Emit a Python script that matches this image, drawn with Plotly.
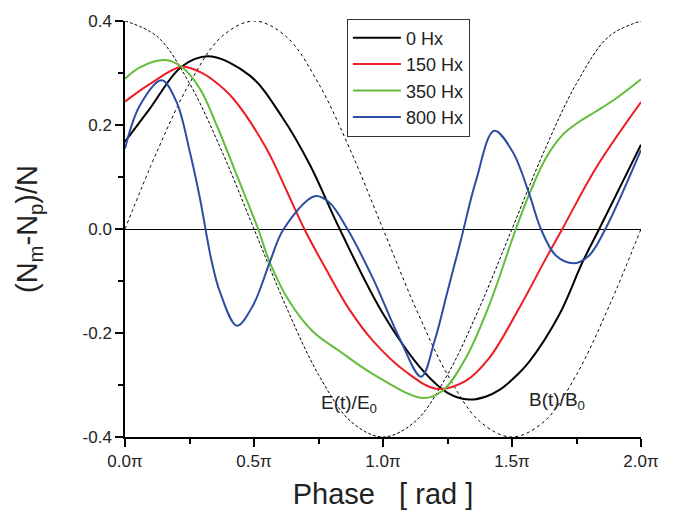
import plotly.graph_objects as go

# Phase in units of pi
x_black = [0.0, 0.097, 0.219, 0.325, 0.484, 0.612, 0.716, 0.832, 0.999, 1.154, 1.25, 1.335, 1.40, 1.45, 1.50, 1.567, 1.683, 1.773, 1.838, 1.92, 2.0]
y_black = [0.168, 0.232, 0.312, 0.332, 0.295, 0.213, 0.124, 0.0, -0.162, -0.272, -0.315, -0.328, -0.322, -0.31, -0.29, -0.255, -0.165, -0.064, 0.0, 0.082, 0.162]

x_red = [0.0, 0.097, 0.219, 0.29, 0.342, 0.419, 0.548, 0.625, 0.695, 0.78, 0.87, 0.961, 1.09, 1.206, 1.321, 1.412, 1.528, 1.631, 1.695, 1.825, 2.0]
y_red = [0.245, 0.279, 0.312, 0.302, 0.286, 0.251, 0.155, 0.075, 0.0, -0.078, -0.155, -0.215, -0.275, -0.307, -0.292, -0.248, -0.152, -0.057, 0.0, 0.117, 0.244]

x_green = [0.0, 0.058, 0.155, 0.219, 0.29, 0.355, 0.432, 0.516, 0.561, 0.638, 0.728, 0.832, 0.961, 1.154, 1.231, 1.321, 1.412, 1.515, 1.567, 1.631, 1.696, 1.76, 1.825, 1.90, 2.0]
y_green = [0.289, 0.311, 0.325, 0.312, 0.27, 0.2, 0.105, 0.0, -0.064, -0.14, -0.197, -0.235, -0.279, -0.325, -0.311, -0.248, -0.146, 0.0, 0.067, 0.136, 0.181, 0.206, 0.226, 0.25, 0.288]

x_blue = [0.0, 0.058, 0.142, 0.2, 0.251, 0.29, 0.335, 0.368, 0.434, 0.497, 0.561, 0.615, 0.735, 0.79, 0.862, 0.961, 1.064, 1.148, 1.2, 1.25, 1.3, 1.36, 1.431, 1.502, 1.567, 1.612, 1.67, 1.741, 1.799, 1.862, 2.0]
y_blue = [0.155, 0.238, 0.286, 0.244, 0.149, 0.06, -0.06, -0.121, -0.186, -0.146, -0.064, 0.0, 0.063, 0.052, 0.0, -0.095, -0.21, -0.284, -0.215, -0.12, -0.025, 0.092, 0.189, 0.149, 0.067, 0.0, -0.051, -0.066, -0.051, 0.0, 0.152]

x_ref = [0.0, 0.125, 0.25, 0.375, 0.5, 0.625, 0.75, 0.875, 1.0, 1.125, 1.25, 1.375, 1.5, 1.625, 1.75, 1.875, 2.0]
y_E = [0.40, 0.37, 0.28, 0.15, 0.00, -0.15, -0.28, -0.37, -0.40, -0.37, -0.28, -0.15, 0.00, 0.15, 0.28, 0.37, 0.40]
y_B = [0.00, 0.15, 0.28, 0.37, 0.40, 0.37, 0.28, 0.15, 0.00, -0.15, -0.28, -0.37, -0.40, -0.37, -0.28, -0.15, 0.00]

series_names = ["0 Hx", "150 Hx", "350 Hx", "800 Hx"]
series_colors = ["#000000", "#ee1c24", "#62bd3c", "#2b4ea2"]

x_tickvals = [0, 0.5, 1.0, 1.5, 2.0]
x_ticktext = ["0.0π", "0.5π", "1.0π", "1.5π", "2.0π"]
y_tickvals = [-0.4, -0.2, 0.0, 0.2, 0.4]
y_ticktext = ["-0.4", "-0.2", "0.0", "0.2", "0.4"]

FONT = "Liberation Sans, Arial, sans-serif"

fig = go.Figure()
fig.add_trace(go.Scatter(x=x_ref, y=y_E, mode="lines", showlegend=False,
                         line=dict(color="black", width=1, dash="3px,2px", shape="spline")))
fig.add_trace(go.Scatter(x=x_ref, y=y_B, mode="lines", showlegend=False,
                         line=dict(color="black", width=1, dash="dot", shape="spline")))

for xs, ys, name, col in zip([x_black, x_red, x_green, x_blue],
                             [y_black, y_red, y_green, y_blue],
                             series_names, series_colors):
    fig.add_trace(go.Scatter(x=xs, y=ys, mode="lines", name=name,
                             line=dict(color=col, width=2, shape="spline", smoothing=1.0)))

fig.add_annotation(x=0.87, y=-0.337, text="E(t)/E<sub>0</sub>", showarrow=False,
                   font=dict(family=FONT, size=19, color="#222"))
fig.add_annotation(x=1.675, y=-0.33, text="B(t)/B<sub>0</sub>", showarrow=False,
                   font=dict(family=FONT, size=19, color="#222"))

fig.update_layout(
    width=675, height=517,
    margin=dict(l=125, r=34, t=18, b=79),
    paper_bgcolor="white", plot_bgcolor="white",
    font=dict(family=FONT, color="#222"),
    legend=dict(x=0.43, y=1.006, xanchor="left", yanchor="top",
                bgcolor="white", bordercolor="#333", borderwidth=1,
                font=dict(family=FONT, size=18, color="#222"),
                itemwidth=48, tracegroupgap=0),
    xaxis=dict(range=[0, 2], tickvals=x_tickvals, ticktext=x_ticktext,
               showgrid=False, zeroline=False, showline=True, linecolor="black", linewidth=1.5,
               ticks="outside", ticklen=8, tickwidth=1.5, tickcolor="black",
               minor=dict(dtick=0.25, ticks="outside", ticklen=5, tickwidth=1.5, tickcolor="black"),
               tickfont=dict(family=FONT, size=17, color="#222"),
               title=dict(text="Phase   [ rad ]", font=dict(family=FONT, size=29, color="#222"), standoff=14)),
    yaxis=dict(range=[-0.4, 0.4], tickvals=y_tickvals, ticktext=y_ticktext,
               showgrid=False, zeroline=True, zerolinecolor="black", zerolinewidth=1,
               showline=True, linecolor="black", linewidth=1.5,
               ticks="outside", ticklen=8, tickwidth=1.5, tickcolor="black",
               minor=dict(dtick=0.1, ticks="outside", ticklen=5, tickwidth=1.5, tickcolor="black"),
               tickfont=dict(family=FONT, size=17, color="#222"),
               title=dict(text="(N<sub>m</sub>-N<sub>p</sub>)/N", font=dict(family=FONT, size=29, color="#222"), standoff=36)),
)

fig.write_html("out.html")
